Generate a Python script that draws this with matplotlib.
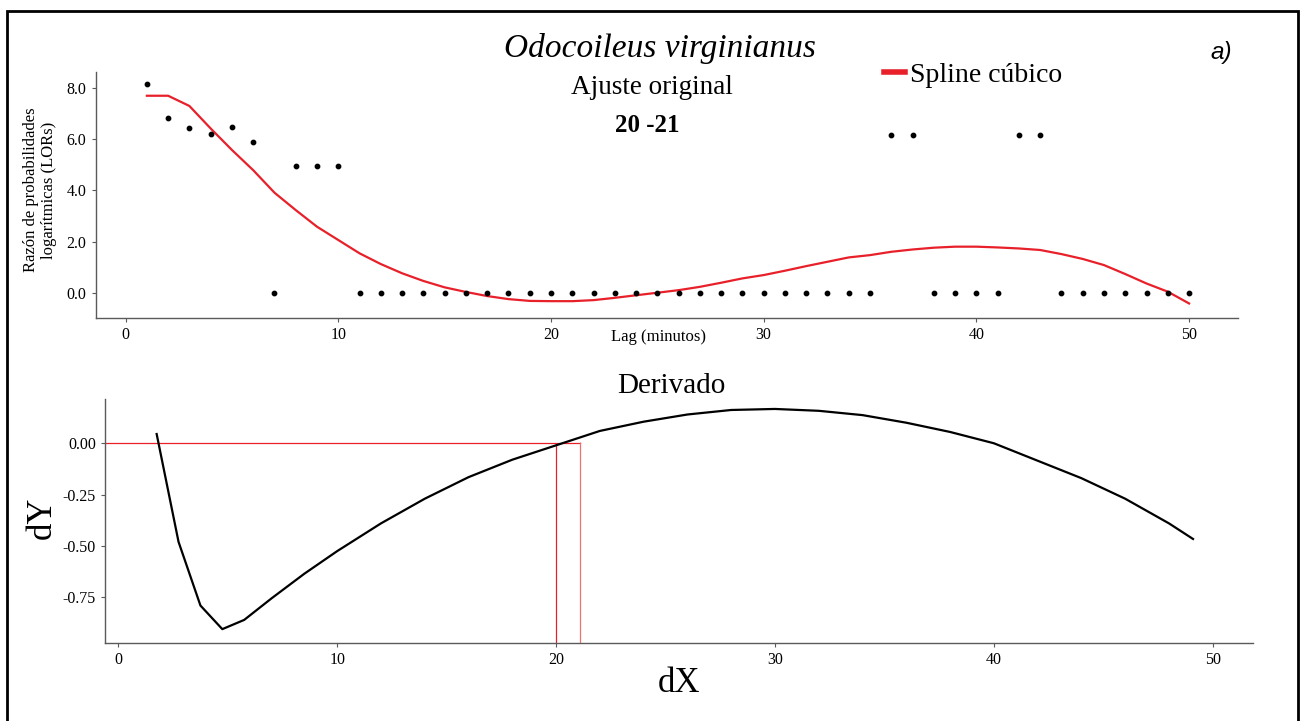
import matplotlib
matplotlib.use("Agg")
import matplotlib.pyplot as plt
from matplotlib.patches import Rectangle

plt.rcParams['font.family'] = ['Liberation Serif', 'DejaVu Serif']

# datos originales (LORs por lag en minutos)
lag = list(range(1, 51))
lor = [8.17, 6.84, 6.45, 6.22, 6.49, 5.88, 0.0, 4.95, 4.95, 4.95,
       0, 0, 0, 0, 0, 0, 0, 0, 0, 0,
       0, 0, 0, 0, 0, 0, 0, 0, 0, 0,
       0, 0, 0, 0, 0, 6.15, 6.15, 0, 0, 0,
       0, 6.15, 6.15, 0, 0, 0, 0, 0, 0, 0]

# spline cúbico ajustado
spline_y = [7.70, 7.70, 7.30, 6.42, 5.58, 4.79, 3.91, 3.23, 2.58, 2.06,
            1.54, 1.12, 0.76, 0.46, 0.21, 0.03, -0.13, -0.25, -0.32, -0.33,
            -0.33, -0.29, -0.20, -0.10, 0.00, 0.10, 0.23, 0.39, 0.56, 0.69,
            0.86, 1.04, 1.21, 1.38, 1.47, 1.60, 1.69, 1.76, 1.80, 1.80,
            1.77, 1.73, 1.67, 1.51, 1.32, 1.08, 0.73, 0.36, 0.04, -0.42]

# derivada del spline
dx = [1.75, 2.75, 3.75, 4.75, 5.75, 7, 8.5, 10, 12, 14, 16, 18, 20, 22, 24,
      26, 28, 30, 32, 34, 36, 38, 40, 42, 44, 46, 48, 49.1]
dy = [0.045, -0.48, -0.79, -0.905, -0.86, -0.755, -0.635, -0.525, -0.39, -0.27,
      -0.165, -0.08, -0.01, 0.06, 0.105, 0.14, 0.162, 0.167, 0.158, 0.137,
      0.10, 0.055, 0.0, -0.085, -0.17, -0.27, -0.39, -0.466]

# intervalo donde la derivada cruza cero
cruce = [20, 21.1]

fig = plt.figure(figsize=(13.02, 7.21), dpi=100)
W, H = 1302, 721

def box(l, t, r, b):
    return [l / W, 1 - b / H, (r - l) / W, (b - t) / H]

spine_col = '#5a5a5a'

# ---- panel superior ----
ax1 = fig.add_axes(box(95.5, 71.7, 1238, 318.3))
ax1.scatter(lag, lor, s=10, color='black', zorder=3)
ln, = ax1.plot(lag, spline_y, color='#e8202a', lw=1.6, label='Spline cúbico')
ax1.set_xlim(-1.415, 52.3)
ax1.set_ylim(-1.0, 8.64)
ax1.set_xticks([0, 10, 20, 30, 40, 50])
ax1.set_yticks([0, 2, 4, 6, 8])
ax1.set_yticklabels(['0.0', '2.0', '4.0', '6.0', '8.0'])
ax1.set_xlabel('Lag (minutos)', fontsize=12)
ax1.xaxis.set_label_coords(0.493, -0.045)
ax1.set_ylabel('Razón de probabilidades\nlogarítmicas (LORs)', fontsize=12,
               linespacing=1.15)
ax1.yaxis.set_label_coords(-0.0335, 0.52)

# ---- panel inferior ----
ax2 = fig.add_axes(box(105, 399.3, 1253, 642.7))
ax2.plot(dx, dy, color='black', lw=1.6, zorder=3)
ax2.plot([-0.61, cruce[1]], [0, 0], color='#e8202a', lw=0.9)
ax2.vlines(cruce[0], -0.971, 0, color='#e8202a', lw=0.9)
ax2.vlines(cruce[1], -0.971, 0.005, color='#f07070', lw=0.9)
ax2.set_xlim(-0.61, 51.84)
ax2.set_ylim(-0.971, 0.214)
ax2.set_xticks([0, 10, 20, 30, 40, 50])
ax2.set_yticks([-0.75, -0.5, -0.25, 0.0])
ax2.set_yticklabels(['-0.75', '-0.50', '-0.25', '0.00'])
ax2.set_xlabel('dX', fontsize=25)
ax2.xaxis.set_label_coords(0.5, -0.10)
ax2.set_ylabel('dY', fontsize=25)
ax2.yaxis.set_label_coords(-0.0405, 0.512)
ax2.set_title('Derivado', fontsize=21, pad=3, x=(671 - 105) / 1148)

for ax in (ax1, ax2):
    for s in ('top', 'right'):
        ax.spines[s].set_visible(False)
    for s in ('left', 'bottom'):
        ax.spines[s].set_color(spine_col)
        ax.spines[s].set_linewidth(1.0)
    ax.tick_params(colors=spine_col, length=3, labelcolor='black', labelsize=11.5)

# textos superiores
fig.text(660 / W, 1 - 48 / H, 'Odocoileus virginianus', fontsize=24,
         style='italic', ha='center', va='center')
fig.text(652 / W, 1 - 88 / H, 'Ajuste original', fontsize=19.5,
         ha='center', va='center')
fig.text(647 / W, 1 - 126 / H, '20 -21', fontsize=18, fontweight='bold',
         ha='center', va='center')
fig.text(1221 / W, 1 - 52 / H, 'a)', fontsize=17.5, style='italic',
         family='Liberation Sans', ha='center', va='center')

fig.legend(handles=[ln], loc='center left', frameon=False, fontsize=20,
           bbox_to_anchor=(884 / W, 1 - 75 / H), handlelength=0.75,
           handletextpad=0.2, borderaxespad=0, borderpad=0)
ln_leg = fig.legends[0].get_lines()[0]
ln_leg.set_linewidth(4)

# marco de la figura
fig.patches.append(Rectangle((7 / W, -0.02), (1298 - 7) / W, 1.02 - 11 / H,
                             transform=fig.transFigure, fill=False,
                             edgecolor='black', lw=2))

fig.savefig('out.png', dpi=100)
